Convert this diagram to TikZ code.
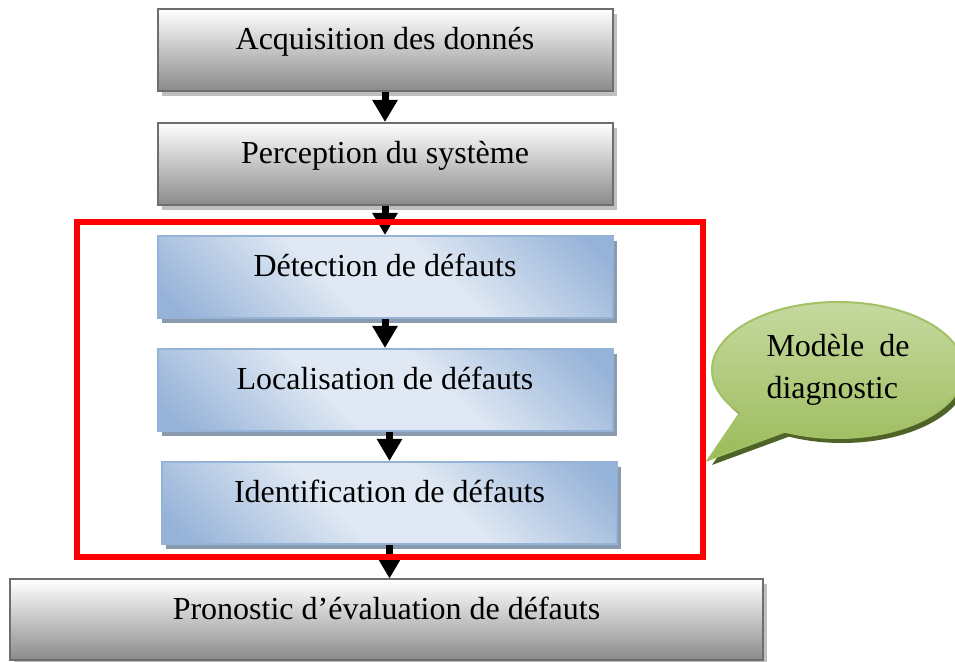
\documentclass[tikz,border=0pt]{standalone}
\usepackage{fontspec}
\setmainfont{Liberation Serif}
\usetikzlibrary{arrows.meta,shadows,shapes.callouts}

\definecolor{greyedge}{HTML}{6E6E6E}
\definecolor{greylow}{HTML}{8A8A8A}
\definecolor{greyshade}{HTML}{BFBFBF}
\definecolor{blueedge}{HTML}{95B3D7}
\definecolor{bluelight}{HTML}{DFE8F3}
\definecolor{bluedark}{HTML}{95B2D8}
\definecolor{blueshade}{HTML}{8A9BB0}
\definecolor{greentop}{HTML}{C6D9A0}
\definecolor{greenlow}{HTML}{9BBB59}
\definecolor{greenedge}{HTML}{A3C165}
\definecolor{greenshade}{HTML}{4F6228}

\pgfdeclarehorizontalshading{bluediag}{100bp}{color(0bp)=(bluedark); color(18bp)=(bluedark); color(42bp)=(bluelight); color(58bp)=(bluelight); color(82bp)=(bluedark); color(100bp)=(bluedark)}

\begin{document}
\begin{tikzpicture}[x=0.5pt,y=-0.5pt,
  box/.style={rectangle,minimum width=227.5pt,minimum height=41pt,inner sep=0pt,
    text height=12pt,text depth=12pt,line width=1pt,font=\fontsize{16pt}{19pt}\selectfont},
  greybox/.style={box,draw=greyedge,top color=white,bottom color=greylow,
    drop shadow={shadow xshift=2pt,shadow yshift=-2.5pt,fill=greyshade,opacity=1}},
  bluebox/.style={box,draw=blueedge,shading=bluediag,shading angle=45,
    drop shadow={shadow xshift=2pt,shadow yshift=-2.5pt,fill=blueshade,opacity=1}},
  bubble/.style={ellipse callout,draw=greenedge,line width=1pt,top color=greentop,bottom color=greenlow,
    minimum width=126pt,minimum height=68pt,text width=71.5pt,align=justify,
    font=\fontsize{16pt}{21pt}\selectfont,callout pointer arc=26,
    drop shadow={shadow xshift=2pt,shadow yshift=-2.5pt,fill=greenshade,opacity=1}},
  flow/.style={line width=3.5pt,-{Triangle[width=12pt,length=11pt]}},
  frame/.style={draw=red,line width=3pt}]
\path[use as bounding box] (0,0) rectangle (955,662);
\clip (0,0) rectangle (955,662);

% chain of steps
\node[greybox] (acq) at (385,50) {Acquisition des donnés};
\node[greybox] (per) at (385,164) {Perception du système};
\node[bluebox] (det) at (385,277) {Détection de défauts};
\node[bluebox] (loc) at (385,390) {Localisation de défauts};
\node[bluebox] (ident) at (389.5,503) {Identification de défauts};
\node[greybox,minimum width=376.5pt,minimum height=40.5pt] (pro) at (386.5,620) {Pronostic d’évaluation de défauts};

\draw[flow] (acq.south) -- (per.north);
\draw[flow] (per.south) -- (det.north);
\draw[flow] (det.south) -- (loc.north);
\draw[flow] (ident.north |- loc.south) -- (ident.north);
\draw[flow] (ident.south) -- (ident.south |- pro.north);

% diagnostic part
\draw[frame] (77,222) rectangle (703,557);
\node[bubble,callout absolute pointer={(708,460)}] (model) at (838,370) {Modèle de diagnostic};
\end{tikzpicture}
\end{document}
